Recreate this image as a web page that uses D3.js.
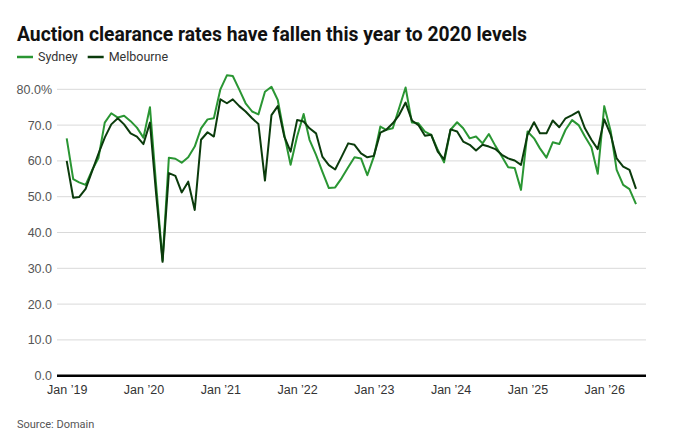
<!DOCTYPE html>
<html>
<head>
<meta charset="utf-8">
<script src="https://cdn.jsdelivr.net/npm/d3@7"></script>
<style>
  body { margin: 0; background: #fff; }
  svg { display: block; font-family: Roboto, "Noto Sans", sans-serif; }
</style>
</head>
<body>
<div id="chart"></div>
<script>
// monthly auction clearance rates, Jan 2019 .. Jun 2026
var startMonth = new Date(2019, 0, 1);

var sydney = [
  66.3, 54.9, 54.0, 53.3, 57.3, 60.8, 70.7, 73.3, 72.1, 72.6,
  71.1, 69.3, 66.5, 75.0, 53.5, 32.2, 60.9, 60.6, 59.5, 61.0,
  64.0, 69.1, 71.6, 71.9, 80.0, 83.9, 83.7, 79.9, 76.1, 73.8,
  73.0, 79.3, 80.7, 77.0, 67.3, 58.9, 66.8, 73.1, 65.9, 61.7,
  57.0, 52.4, 52.6, 55.2, 58.2, 61.0, 60.7, 56.0, 61.2, 69.6,
  68.7, 69.1, 74.7, 80.5, 70.7, 70.5, 68.2, 67.3, 63.1, 59.6,
  68.7, 70.8, 69.1, 66.3, 66.8, 64.9, 67.5, 64.2, 61.2, 58.2,
  58.0, 51.9, 68.2, 66.3, 63.5, 60.9, 65.2, 64.7, 68.7, 71.4,
  70.0, 66.8, 63.8, 56.4, 75.3, 68.2, 57.5, 53.3, 52.1, 47.9
];

var melbourne = [
  60.0, 49.7, 49.9, 52.2, 57.0, 62.0, 66.5, 70.2, 71.9, 70.2,
  67.7, 66.8, 64.7, 70.7, 51.0, 31.8, 56.6, 55.8, 51.2, 54.2,
  46.3, 65.9, 68.0, 66.8, 77.2, 76.1, 77.2, 75.3, 73.8, 71.9,
  70.3, 54.5, 72.8, 75.3, 66.8, 62.6, 71.4, 71.0, 69.1, 67.7,
  61.2, 58.8, 57.6, 61.2, 64.9, 64.5, 62.1, 61.0, 61.4, 67.9,
  68.7, 70.5, 72.8, 76.3, 71.3, 70.0, 67.0, 67.3, 62.6, 60.4,
  68.8, 68.2, 65.4, 64.5, 62.9, 64.5, 64.0, 63.3, 61.7, 60.7,
  60.1, 58.9, 67.3, 70.8, 67.7, 67.7, 71.3, 69.4, 71.9, 72.8,
  73.8, 69.1, 65.9, 63.3, 71.6, 67.3, 60.7, 58.4, 57.5, 52.2
];

var seriesNames = ["Sydney", "Melbourne"];
var seriesColors = ["#2a9633", "#0b3b0c"];
var yTicks = [0, 10, 20, 30, 40, 50, 60, 70, 80];
var xTickYears = [2019, 2020, 2021, 2022, 2023, 2024, 2025, 2026];

var width = 674, height = 430;
var margin = { top: 89.3, right: 28, bottom: 54.3, left: 57 };

var months = sydney.map(function(d, i) { return d3.timeMonth.offset(startMonth, i); });
var rows = seriesNames.map(function(name, k) {
    var vals = k === 0 ? sydney : melbourne;
    return { name: name, color: seriesColors[k], values: vals.map(function(v, i) { return { date: months[i], value: v }; }) };
});

var svg = d3.select("#chart").append("svg")
    .attr("width", width)
    .attr("height", height);

var x = d3.scaleTime()
    .domain([months[0], months[months.length - 1]])
    .range([margin.left + 9.7, width - margin.right - 10]);

var y = d3.scaleLinear()
    .domain([0, 80])
    .range([height - margin.bottom, margin.top]);

// title + legend
svg.append("text")
    .attr("x", 17).attr("y", 41)
    .attr("font-size", 20).attr("font-weight", 700)
    .attr("fill", "#111")
    .attr("textLength", 510).attr("lengthAdjust", "spacingAndGlyphs")
    .text("Auction clearance rates have fallen this year to 2020 levels");

var legend = svg.append("g").attr("transform", "translate(17,57)");
var lx = 0;
rows.forEach(function(r) {
    legend.append("line")
        .attr("x1", lx).attr("x2", lx + 16)
        .attr("stroke", r.color).attr("stroke-width", 2.5);
    var t = legend.append("text")
        .attr("x", lx + 21).attr("dy", "0.35em")
        .attr("font-size", 12.5).attr("fill", "#333")
        .text(r.name);
    lx += 21 + t.node().getComputedTextLength() + 10;
});

// grid
svg.append("g").selectAll("line")
    .data(yTicks.filter(function(d) { return d > 0; }))
    .join("line")
    .attr("x1", margin.left).attr("x2", width - margin.right)
    .attr("y1", function(d) { return y(d); }).attr("y2", function(d) { return y(d); })
    .attr("stroke", "#d9d9d9").attr("stroke-width", 1);

var yAxis = svg.append("g")
    .attr("transform", "translate(" + margin.left + ",0)")
    .call(d3.axisLeft(y).tickValues(yTicks).tickSize(0).tickPadding(5)
        .tickFormat(function(d) { return d === 80 ? "80.0%" : d.toFixed(1); }));
yAxis.select(".domain").remove();
yAxis.selectAll("text").attr("font-size", 12.5).attr("fill", "#555").attr("font-family", null);

var xAxis = svg.append("g")
    .attr("transform", "translate(0," + y(0) + ")")
    .call(d3.axisBottom(x)
        .tickValues(xTickYears.map(function(yr) { return new Date(yr, 0, 1); }))
        .tickSize(0).tickPadding(9)
        .tickFormat(function(d) { return "Jan \u2019" + String(d.getFullYear()).slice(2); }));
xAxis.select(".domain").remove();
xAxis.selectAll("text").attr("font-size", 12.5).attr("fill", "#333").attr("font-family", null);

svg.append("line")
    .attr("x1", margin.left).attr("x2", width - margin.right)
    .attr("y1", y(0)).attr("y2", y(0))
    .attr("stroke", "#000").attr("stroke-width", 2.5);

// lines
var line = d3.line()
    .x(function(d) { return x(d.date); })
    .y(function(d) { return y(d.value); });

svg.append("g").selectAll("path")
    .data(rows)
    .join("path")
    .attr("fill", "none")
    .attr("stroke", function(d) { return d.color; })
    .attr("stroke-width", 2)
    .attr("stroke-linejoin", "round")
    .attr("d", function(d) { return line(d.values); });

svg.append("text")
    .attr("x", 17).attr("y", 428)
    .attr("font-size", 11).attr("fill", "#555")
    .text("Source: Domain");
</script>
</body>
</html>
